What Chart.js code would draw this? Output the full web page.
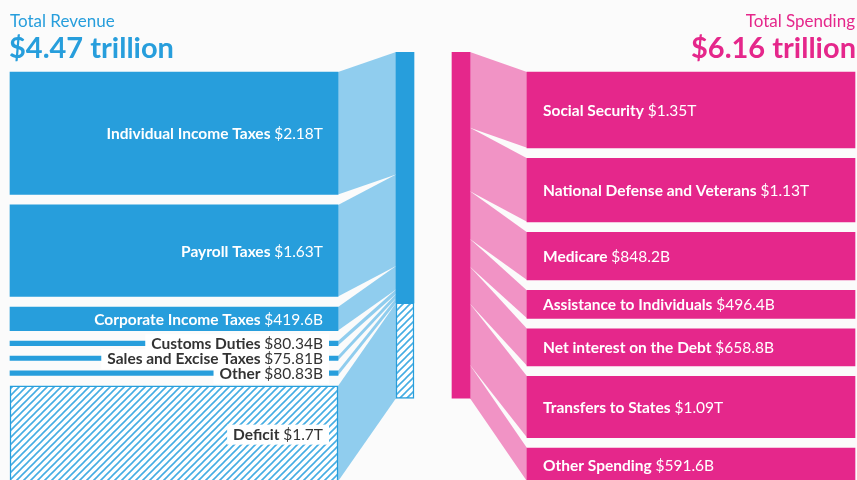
<!DOCTYPE html>
<html>
<head>
<meta charset="utf-8">
<script src="https://cdn.jsdelivr.net/npm/chart.js@4.4.1/dist/chart.umd.min.js"></script>
<style>
  html, body { margin: 0; padding: 0; background: #fbfbfb; }
  .wrap { position: relative; width: 857px; height: 480px; overflow: hidden; }
</style>
</head>
<body>
<div class="wrap"><canvas id="budgetChart"></canvas></div>
<script>
// Revenue side (left)
const revenueLabels = ['Individual Income Taxes', 'Payroll Taxes', 'Corporate Income Taxes', 'Customs Duties', 'Sales and Excise Taxes', 'Other', 'Deficit'];
const revenueValues = [2.18, 1.63, 0.4196, 0.08034, 0.07581, 0.08083, 1.70]; // trillions
const revenueAmounts = ['$2.18T', '$1.63T', '$419.6B', '$80.34B', '$75.81B', '$80.83B', '$1.7T'];

// Spending side (right)
const spendingLabels = ['Social Security', 'National Defense and Veterans', 'Medicare', 'Assistance to Individuals', 'Net interest on the Debt', 'Transfers to States', 'Other Spending'];
const spendingValues = [1.35, 1.13, 0.8482, 0.4964, 0.6588, 1.09, 0.5916];
const spendingAmounts = ['$1.35T', '$1.13T', '$848.2B', '$496.4B', '$658.8B', '$1.09T', '$591.6B'];

const totalRevenueText = '$4.47 trillion';
const totalSpendingText = '$6.16 trillion';

// colours
const BLUE = '#279edc';
const LIGHT_BLUE = '#90cdee';
const PINK = '#e5278b';
const LIGHT_PINK = '#f193c5';
const DARK = '#333333';
const FONT = 'Lato, sans-serif';
const LABEL_SIZE = 15.5;

// layout (pixels on x, trillions on y)
const COL = { leftX0: 10, leftX1: 338, midX0: 396, midX1: 414, pinkX0: 452, pinkX1: 470, rightX0: 527, rightX1: 855 };
const NODE_TOP = 0.356;
const NODE_GAP = 0.187;
const Y_MAX = 7.62;
const DEFICIT = revenueLabels.indexOf('Deficit');

function stack(values, start, gap) {
  let y = start;
  return values.map(v => {
    const r = [y, y + v];
    y += v + gap;
    return r;
  });
}

const leftRanges = stack(revenueValues, NODE_TOP, NODE_GAP);
const midRanges = stack(revenueValues, 0, 0);
const pinkRanges = stack(spendingValues, 0, 0);
const rightRanges = stack(spendingValues, NODE_TOP, NODE_GAP);

const revenueTotal = revenueValues.slice(0, DEFICIT).reduce((a, b) => a + b, 0);
const deficitTotal = revenueValues[DEFICIT];
const spendingTotal = spendingValues.reduce((a, b) => a + b, 0);

// Hatch pattern for the deficit
function makeHatch() {
  const s = 7;
  const c = document.createElement('canvas');
  c.width = s; c.height = s;
  const g = c.getContext('2d');
  g.fillStyle = '#ffffff';
  g.fillRect(0, 0, s, s);
  g.strokeStyle = '#45ade3';
  g.lineWidth = 1.6;
  g.beginPath();
  g.moveTo(0, s); g.lineTo(s, 0);
  g.moveTo(-1, 1); g.lineTo(1, -1);
  g.moveTo(s - 1, s + 1); g.lineTo(s + 1, s - 1);
  g.stroke();
  return g.createPattern(c, 'repeat');
}
const hatch = makeHatch();

const leftCenter = (COL.leftX0 + COL.leftX1) / 2;
const rightCenter = (COL.rightX0 + COL.rightX1) / 2;

// Ribbons between columns
const ribbonPlugin = {
  id: 'ribbons',
  beforeDatasetsDraw(chart) {
    const ctx = chart.ctx;
    const y = chart.scales.y;
    const x = chart.scales.x;
    function band(xa, ra, xb, rb, color) {
      ctx.beginPath();
      ctx.moveTo(x.getPixelForValue(xa), y.getPixelForValue(ra[0]));
      ctx.lineTo(x.getPixelForValue(xb), y.getPixelForValue(rb[0]));
      ctx.lineTo(x.getPixelForValue(xb), y.getPixelForValue(rb[1]));
      ctx.lineTo(x.getPixelForValue(xa), y.getPixelForValue(ra[1]));
      ctx.closePath();
      ctx.fillStyle = color;
      ctx.fill();
    }
    ctx.save();
    leftRanges.forEach((r, i) => band(COL.leftX1, r, COL.midX0, midRanges[i], LIGHT_BLUE));
    pinkRanges.forEach((r, i) => band(COL.pinkX1, r, COL.rightX0, rightRanges[i], LIGHT_PINK));
    ctx.restore();
  }
};

// Titles and node labels
const labelPlugin = {
  id: 'labels',
  afterDatasetsDraw(chart) {
    const ctx = chart.ctx;
    const y = chart.scales.y;
    ctx.save();

    // titles
    ctx.textBaseline = 'alphabetic';
    ctx.font = '17px ' + FONT;
    ctx.fillStyle = BLUE;
    ctx.textAlign = 'left';
    ctx.fillText('Total Revenue', 10, 27);
    ctx.font = 'bold 29px ' + FONT;
    ctx.fillText(totalRevenueText, 9, 58);
    ctx.fillStyle = PINK;
    ctx.textAlign = 'right';
    ctx.font = '17px ' + FONT;
    ctx.fillText('Total Spending', 855, 27);
    ctx.font = 'bold 29px ' + FONT;
    ctx.fillText(totalSpendingText, 856, 58);

    ctx.textAlign = 'left';
    ctx.textBaseline = 'middle';

    function drawLabel(name, amount, xPos, cy, align, color, box) {
      ctx.font = 'bold ' + LABEL_SIZE + 'px ' + FONT;
      const w1 = ctx.measureText(name + ' ').width;
      ctx.font = LABEL_SIZE + 'px ' + FONT;
      const w2 = ctx.measureText(amount).width;
      const x0 = align === 'right' ? xPos - w1 - w2 : xPos;
      if (box) {
        ctx.fillStyle = '#ffffff';
        ctx.fillRect(x0 - 6, cy - 10, w1 + w2 + 12, 20);
      }
      ctx.fillStyle = color;
      ctx.font = 'bold ' + LABEL_SIZE + 'px ' + FONT;
      ctx.fillText(name + ' ', x0, cy);
      ctx.font = LABEL_SIZE + 'px ' + FONT;
      ctx.fillText(amount, x0 + w1, cy);
    }

    leftRanges.forEach((r, i) => {
      const top = y.getPixelForValue(r[0]);
      const bottom = y.getPixelForValue(r[1]);
      const cy = (top + bottom) / 2 + 1;
      const thick = bottom - top > 16 && i !== DEFICIT;
      drawLabel(revenueLabels[i], revenueAmounts[i], 323, cy, 'right', thick ? '#ffffff' : DARK, !thick);
    });

    rightRanges.forEach((r, i) => {
      const top = y.getPixelForValue(r[0]);
      const bottom = y.getPixelForValue(r[1]);
      const cy = Math.min((top + bottom) / 2, 466) + 1;
      drawLabel(spendingLabels[i], spendingAmounts[i], 543, cy, 'left', '#ffffff', false);
    });

    ctx.restore();
  }
};

const ctx = document.getElementById('budgetChart');
new Chart(ctx, {
  type: 'bar',
  data: {
    datasets: [
      {
        label: 'Revenue sources',
        data: leftRanges.map(r => ({ x: leftCenter, y: r })),
        backgroundColor: revenueLabels.map((l, i) => i === DEFICIT ? hatch : BLUE),
        borderColor: BLUE,
        borderWidth: revenueLabels.map((l, i) => i === DEFICIT ? 1.5 : 0),
        borderSkipped: false,
        barThickness: COL.leftX1 - COL.leftX0,
        grouped: false
      },
      {
        label: 'Total revenue',
        data: [
          { x: (COL.midX0 + COL.midX1) / 2, y: [0, revenueTotal] },
          { x: (COL.midX0 + COL.midX1) / 2, y: [revenueTotal, revenueTotal + deficitTotal] }
        ],
        backgroundColor: [BLUE, hatch],
        borderColor: BLUE,
        borderWidth: [0, 1.5],
        borderSkipped: false,
        barThickness: COL.midX1 - COL.midX0,
        grouped: false
      },
      {
        label: 'Total spending',
        data: [{ x: (COL.pinkX0 + COL.pinkX1) / 2, y: [0, spendingTotal] }],
        backgroundColor: PINK,
        borderWidth: 0,
        barThickness: COL.pinkX1 - COL.pinkX0,
        grouped: false
      },
      {
        label: 'Spending',
        data: rightRanges.map(r => ({ x: rightCenter, y: r })),
        backgroundColor: PINK,
        borderWidth: 0,
        barThickness: COL.rightX1 - COL.rightX0,
        grouped: false
      }
    ]
  },
  options: {
    responsive: true,
    maintainAspectRatio: false,
    animation: false,
    layout: { padding: { top: 52, left: 0, right: 0, bottom: 0 } },
    plugins: {
      legend: { display: false },
      tooltip: { enabled: false }
    },
    scales: {
      x: { type: 'linear', min: 0, max: 857, offset: false, display: false },
      y: { type: 'linear', min: 0, max: Y_MAX, reverse: true, display: false }
    }
  },
  plugins: [ribbonPlugin, labelPlugin]
});
</script>
</body>
</html>
